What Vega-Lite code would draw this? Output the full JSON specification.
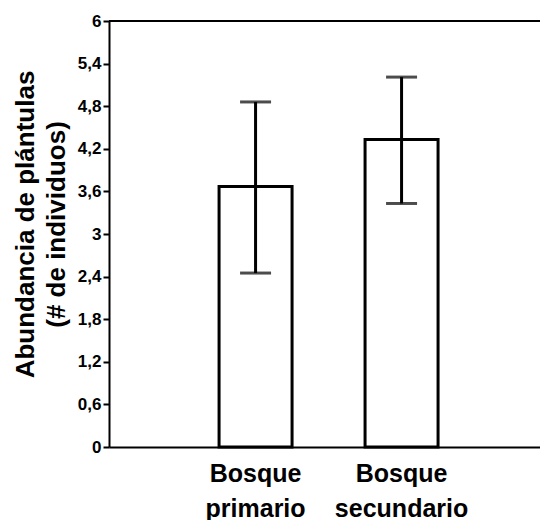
{
  "$schema": "https://vega.github.io/schema/vega-lite/v6.json",
  "width": 445,
  "height": 426,
  "autosize": {"type": "none"},
  "padding": {"left": 109, "top": 21, "right": 0, "bottom": 73},
  "background": "white",
  "config": {"view": {"stroke": null}, "font": "Liberation Sans"},
  "data": {"values": [
    {"grupo": "Bosque primario", "media": 3.67, "inf": 2.45, "sup": 4.86},
    {"grupo": "Bosque secundario", "media": 4.33, "inf": 3.43, "sup": 5.21}
  ]},
  "layer": [
    {
      "mark": {"type": "bar", "fill": "white", "stroke": "black", "strokeWidth": 3},
      "encoding": {
        "x": {"field": "grupo", "type": "nominal", "sort": null,
          "scale": {"paddingInner": 0.5, "paddingOuter": 0.774, "align": 0.487},
          "axis": {"title": null, "labelAngle": 0, "ticks": false, "domainColor": "black", "domainWidth": 2,
            "labelFontSize": 25, "labelFontWeight": "bold", "labelColor": "black", "labelLineHeight": 35,
            "labelPadding": 14, "labelExpr": "split(datum.label, ' ')"}},
        "y": {"field": "media", "type": "quantitative",
          "scale": {"domain": [0, 6], "nice": false, "zero": true},
          "axis": {"title": ["Abundancia de plántulas", "(# de individuos)"],
            "titleFontSize": 26, "titleFontWeight": "bold", "titleColor": "black", "titleLineHeight": 31,
            "titleAngle": -90, "titleAlign": "center", "titleBaseline": "alphabetic", "titleX": -76, "titleY": 203,
            "grid": false, "values": [0, 0.6, 1.2, 1.8, 2.4, 3, 3.6, 4.2, 4.8, 5.4, 6],
            "labelExpr": "replace(format(datum.value, '.2~f'), '.', ',')",
            "labelFontSize": 17, "labelFontWeight": "bold", "labelColor": "black", "labelPadding": 2,
            "tickSize": 6, "tickWidth": 2, "tickColor": "black", "domainColor": "black", "domainWidth": 2}}
      }
    },
    {
      "mark": {"type": "rule", "strokeWidth": 3, "color": "black"},
      "encoding": {
        "x": {"field": "grupo", "type": "nominal", "sort": null},
        "y": {"field": "inf", "type": "quantitative"},
        "y2": {"field": "sup"}
      }
    },
    {
      "mark": {"type": "tick", "size": 31, "thickness": 3, "color": "black"},
      "encoding": {
        "x": {"field": "grupo", "type": "nominal", "sort": null},
        "y": {"field": "inf", "type": "quantitative"}
      }
    },
    {
      "mark": {"type": "tick", "size": 31, "thickness": 3, "color": "black"},
      "encoding": {
        "x": {"field": "grupo", "type": "nominal", "sort": null},
        "y": {"field": "sup", "type": "quantitative"}
      }
    },
    {
      "data": {"values": [{"tope": 6}]},
      "mark": {"type": "rule", "strokeWidth": 2, "color": "black"},
      "encoding": {"y": {"field": "tope", "type": "quantitative"}}
    }
  ]
}
